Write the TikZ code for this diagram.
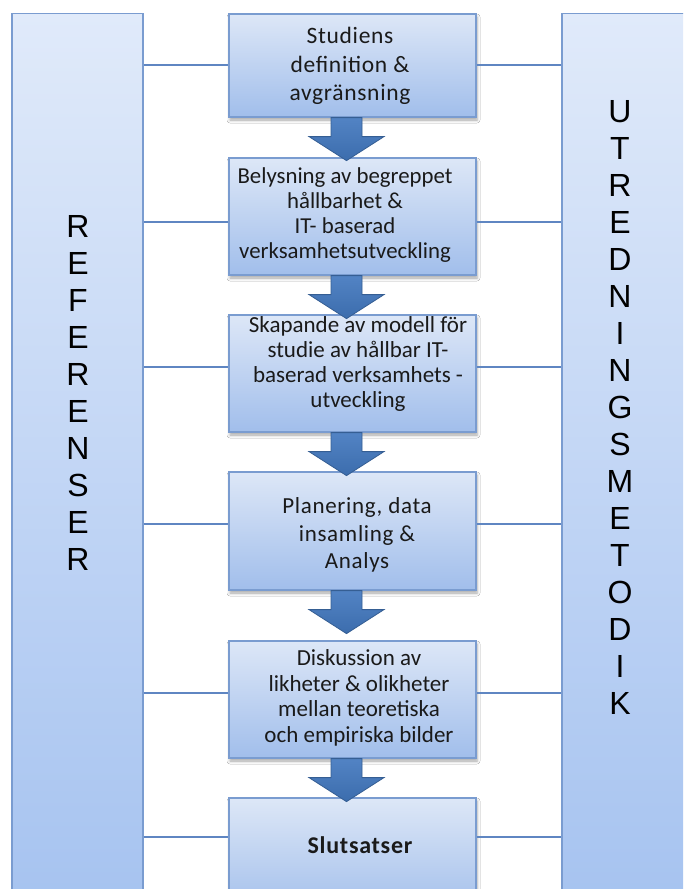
\documentclass[tikz,border=0pt]{standalone}
\usepackage{fontspec}
\usetikzlibrary{calc,shadows.blur}
\newfontfamily\boxfont{Carlito}
\newfontfamily\boxfontwide[LetterSpace=3]{Carlito}
\newfontfamily\sidefont{Liberation Sans}

\definecolor{edgeblue}{HTML}{7A9CD0}
\definecolor{linkblue}{HTML}{5F86C2}
\definecolor{boxtop}{HTML}{DDE7F7}
\definecolor{boxbottom}{HTML}{A1BEEB}
\definecolor{sidetop}{HTML}{E0EAFA}
\definecolor{sidebottom}{HTML}{A6C3F0}
\definecolor{arrowtop}{HTML}{5283C4}
\definecolor{arrowbottom}{HTML}{3C6DAD}
\definecolor{arrowedge}{HTML}{355E93}
\definecolor{inktext}{HTML}{1A1A1A}

\tikzset{
  stepbox/.style={draw=edgeblue, line width=1.2pt, top color=boxtop,
    bottom color=boxbottom, minimum width=247pt, inner sep=0pt,
    blur shadow={shadow xshift=1pt, shadow yshift=-3pt,
      shadow blur radius=3pt, shadow opacity=35}},
  sidebox/.style={draw=edgeblue, line width=1.2pt, top color=sidetop,
    bottom color=sidebottom, minimum width=131pt, minimum height=892pt,
    inner sep=0pt, anchor=north},
  steptext/.style={font=\boxfont\fontsize{23}{25}\selectfont, align=center,
    text=inktext, inner sep=0pt},
  sideletters/.style={font=\sidefont\fontsize{32}{37}\selectfont,
    align=center, inner sep=0pt},
  link/.style={draw=linkblue, line width=1.3pt},
  flow/.style={draw=arrowedge, line width=0.8pt, top color=arrowtop,
    bottom color=arrowbottom},
}

% block arrow hanging below a step box
\newcommand\flowarrow[1]{%
  \path[flow] let \p1=($(#1.south)+(-6,0)$) in
    (\x1-15.5pt,\y1) -- (\x1+15.5pt,\y1) -- (\x1+15.5pt,\y1-19pt)
    -- (\x1+37.5pt,\y1-19pt) -- (\x1,\y1-43pt) -- (\x1-37.5pt,\y1-19pt)
    -- (\x1-15.5pt,\y1-19pt) -- cycle;}

\begin{document}
\begin{tikzpicture}[x=1pt,y=-1pt]
  \clip (0,0) rectangle (683,889);
  \fill[white] (0,0) rectangle (683,889);

  % side columns
  \node[sidebox] (ref) at (77.5,13) {};
  \node[sidebox] (met) at (627.5,13) {};
  \node[sideletters] (reftext) at (78,392.5)
    {R\\E\\F\\E\\R\\E\\N\\S\\E\\R};
  \node[sideletters] (mettext) at (620,407.5)
    {U\\T\\R\\E\\D\\N\\I\\N\\G\\S\\M\\E\\T\\O\\D\\I\\K};

  % step boxes
  \node[stepbox, minimum height=103pt] (b1) at (352.5,65.5) {};
  \node[stepbox, minimum height=117pt] (b2) at (352.5,216.5) {};
  \node[stepbox, minimum height=117pt] (b3) at (352.5,373.5) {};
  \node[stepbox, minimum height=118pt] (b4) at (352.5,531) {};
  \node[stepbox, minimum height=117pt] (b5) at (352.5,699.5) {};
  \node[stepbox, minimum height=117pt] (b6) at (352.5,856.5) {};

  % step texts
  \node[steptext, font=\boxfontwide\fontsize{23.5}{28.5}\selectfont] (t1) at (350,66)
    {Studiens\\definition \&\\avgränsning};
  \node[steptext, font=\boxfont\fontsize{22.8}{25}\selectfont] (t2) at (345,215)
    {Belysning av begreppet\\hållbarhet \&\\IT- baserad\\verksamhetsutveckling};
  \node[steptext] (t3) at (358,364)
    {Skapande av modell för\\studie av hållbar IT-\\baserad verksamhets -\\utveckling};
  \node[steptext, font=\boxfontwide\fontsize{23}{27.5}\selectfont] (t4) at (357,535)
    {Planering, data\\insamling \&\\Analys};
  \node[steptext, font=\boxfont\fontsize{23}{25.7}\selectfont] (t5) at (359,698)
    {Diskussion av\\likheter \& olikheter\\mellan teoretiska\\och empiriska bilder};
  \node[steptext, font=\boxfontwide\bfseries\fontsize{24}{25}\selectfont] (t6) at (360,845)
    {Slutsatser};

  % flow arrows
  \flowarrow{b1}
  \flowarrow{b2}
  \flowarrow{b3}
  \flowarrow{b4}
  \flowarrow{b5}

  % links to the side columns
  \coordinate (h1) at (0,65);
  \coordinate (h2) at (0,222);
  \coordinate (h3) at (0,367);
  \coordinate (h4) at (0,524);
  \coordinate (h5) at (0,693);
  \coordinate (h6) at (0,837);
  \foreach \i in {1,...,6}{
    \draw[link] (ref.east |- h\i) -- (b\i.west |- h\i);
    \draw[link] (b\i.east |- h\i) -- (met.west |- h\i);
  }
\end{tikzpicture}
\end{document}
